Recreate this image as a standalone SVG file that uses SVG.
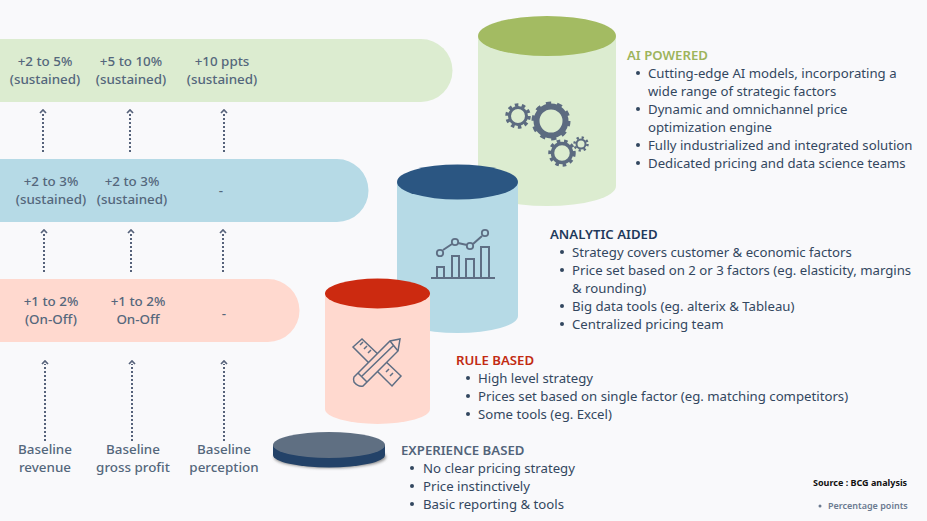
<svg xmlns="http://www.w3.org/2000/svg" width="927" height="521" viewBox="0 0 927 521">
<defs><filter id="sh" x="-10%" y="-20%" width="120%" height="150%"><feGaussianBlur stdDeviation="1.500"/></filter></defs>
<style>
text{font-family:"Noto Sans","Open Sans",sans-serif;}
.v{font-size:13.400px;font-weight:500;fill:#54677c;text-anchor:middle}
.h{font-size:13.200px;font-weight:600}
.b{font-size:13.200px;fill:#33475f}
.d{fill:#33475f}
.ar{fill:none;stroke:#56627a;stroke-width:2;stroke-dasharray:2 2}
.hd{fill:none;stroke:#56627a;stroke-width:1.700}
.ic{fill:none;stroke:#5e6e84;stroke-width:1.500}
</style>
<rect width="927" height="521" fill="#f9f9fb"/>
<g id="band-ai"><path d="M0 39H421a31.500 31.500 0 0 1 0 63H0Z" fill="#dcecd0"/>
<text class="v" x="45" y="66">+2 to 5%</text><text class="v" x="45" y="84">(sustained)</text>
<text class="v" x="131" y="66">+5 to 10%</text><text class="v" x="131" y="84">(sustained)</text>
<text class="v" x="222" y="66">+10 ppts</text><text class="v" x="222" y="84">(sustained)</text></g>
<g id="band-analytic"><path d="M0 159H337a31.500 31.500 0 0 1 0 63H0Z" fill="#b6dae6"/>
<text class="v" x="51" y="186">+2 to 3%</text><text class="v" x="51" y="204">(sustained)</text>
<text class="v" x="132" y="186">+2 to 3%</text><text class="v" x="132" y="204">(sustained)</text>
<text class="v" x="221" y="195">-</text></g>
<g id="band-rule"><path d="M0 279H268a31.500 31.500 0 0 1 0 63H0Z" fill="#ffd9cf"/>
<text class="v" x="51" y="306">+1 to 2%</text><text class="v" x="51" y="324">(On-Off)</text>
<text class="v" x="138" y="306">+1 to 2%</text><text class="v" x="138" y="324">On-Off</text>
<text class="v" x="224" y="318">-</text></g>
<g id="connectors">
<path class="ar" d="M43 152V112M130 152V112M224 152V112M44 272V232M131 272V232M223 272V232M45 441V364M132 441V364M224 441V364"/>
<path class="hd" d="M40 113l3-3 3 3M127 113l3-3 3 3M221 113l3-3 3 3M41 233l3-3 3 3M128 233l3-3 3 3M220 233l3-3 3 3M42 364l3-3 3 3M129 364l3-3 3 3M221 364l3-3 3 3"/>
</g>
<g id="cyl-ai">
<path d="M478 36V186A69 20 0 0 0 616 186V36Z" fill="#dcecd0"/>
<ellipse cx="547" cy="36" rx="69" ry="20" fill="#a3bb62"/>
<g fill="none" stroke="#5c6b80">
<circle cx="551" cy="121" r="14.500" stroke-width="6"/><circle cx="551" cy="121" r="17" stroke-width="5" stroke-dasharray="5 5.680"/>
<circle cx="518" cy="116" r="8.500" stroke-width="3"/><circle cx="518" cy="116" r="11" stroke-width="3.500" stroke-dasharray="3.500 3.410"/>
<circle cx="562" cy="153" r="9.500" stroke-width="3.500"/><circle cx="562" cy="153" r="12" stroke-width="3.500" stroke-dasharray="3.500 3.780"/>
<circle cx="581" cy="144" r="4.500" stroke-width="2"/><circle cx="581" cy="144" r="6.500" stroke-width="2.500" stroke-dasharray="2.200 2.880"/>
</g></g>
<g id="cyl-analytic">
<path d="M397 182V316A60.500 17 0 0 0 518 316V182Z" fill="#b6dae6"/>
<ellipse cx="457.500" cy="182" rx="60.500" ry="17.500" fill="#2b5682"/>
<g class="ic"><path d="M431 278H495M437 278V267H444V278M452 278V256H459V278M466 278V259H474V278M481 278V247H489V278" stroke-width="2"/>
<path d="M443 250L452 244M458 243L467 245M473 244L482 236" stroke-width="2"/>
<circle cx="440" cy="253" r="3.200" stroke-width="1.800"/><circle cx="455" cy="242" r="3.200" stroke-width="1.800"/><circle cx="470" cy="246" r="3.200" stroke-width="1.800"/><circle cx="485" cy="233" r="3.200" stroke-width="1.800"/></g></g>
<g id="cyl-rule">
<path d="M325 293V409A52.500 15 0 0 0 430 409V293Z" fill="#ffd9cf"/>
<ellipse cx="377.500" cy="293.500" rx="52.500" ry="15" fill="#cc2a10"/>
<g class="ic"><path d="M353 347L362 339L401 376L392 386Z"/><path d="M360 345l3-3M364 349l3-3M368 353l3-3M386 372l3-3M390 376l3-3"/>
<path d="M354 377L390 341L400 339L398 351L363 386Q358 387 354 382Q353 379 354 377Z" fill="#ffd9cf"/><path d="M358 373L367 382M390 341L398 351M361 377L394 345"/></g></g>
<g id="disc-experience">
<ellipse cx="330" cy="457" rx="56" ry="11" fill="#8a8a8a" filter="url(#sh)"/>
<path d="M273 445V455A56 12.500 0 0 0 385 455V445Z" fill="#234268"/>
<ellipse cx="329" cy="445" rx="56" ry="13" fill="#5f6f82"/></g>
<g id="baseline-revenue"><text class="v" x="45" y="454">Baseline</text><text class="v" x="45" y="472">revenue</text></g>
<g id="baseline-profit"><text class="v" x="133" y="454">Baseline</text><text class="v" x="133" y="472">gross profit</text></g>
<g id="baseline-perception"><text class="v" x="224" y="454">Baseline</text><text class="v" x="224" y="472">perception</text></g>
<g id="text-ai"><text class="h" x="627" y="60" fill="#9db45c">AI POWERED</text>
<circle class="d" cx="638" cy="73" r="2"/><text class="b" x="648" y="78">Cutting-edge AI models, incorporating a</text><text class="b" x="648" y="96">wide range of strategic factors</text>
<circle class="d" cx="638" cy="109" r="2"/><text class="b" x="648" y="114">Dynamic and omnichannel price</text><text class="b" x="648" y="132">optimization engine</text>
<circle class="d" cx="638" cy="145" r="2"/><text class="b" x="648" y="150">Fully industrialized and integrated solution</text>
<circle class="d" cx="638" cy="163" r="2"/><text class="b" x="648" y="168">Dedicated pricing and data science teams</text></g>
<g id="text-analytic"><text class="h" x="550" y="239" fill="#1f3a5c">ANALYTIC AIDED</text>
<circle class="d" cx="562" cy="252" r="2"/><text class="b" x="572" y="257">Strategy covers customer &amp; economic factors</text>
<circle class="d" cx="562" cy="270" r="2"/><text class="b" x="572" y="275">Price set based on 2 or 3 factors (eg. elasticity, margins</text><text class="b" x="572" y="293">&amp; rounding)</text>
<circle class="d" cx="562" cy="306" r="2"/><text class="b" x="572" y="311">Big data tools (eg. alterix &amp; Tableau)</text>
<circle class="d" cx="562" cy="324" r="2"/><text class="b" x="572" y="329">Centralized pricing team</text></g>
<g id="text-rule"><text class="h" x="456" y="365" fill="#c22a12">RULE BASED</text>
<circle class="d" cx="468" cy="378" r="2"/><text class="b" x="478" y="383">High level strategy</text>
<circle class="d" cx="468" cy="396" r="2"/><text class="b" x="478" y="401">Prices set based on single factor (eg. matching competitors)</text>
<circle class="d" cx="468" cy="414" r="2"/><text class="b" x="478" y="419">Some tools (eg. Excel)</text></g>
<g id="text-experience"><text class="h" x="401" y="455" fill="#52647a">EXPERIENCE BASED</text>
<circle class="d" cx="412" cy="468" r="2"/><text class="b" x="423" y="473">No clear pricing strategy</text>
<circle class="d" cx="412" cy="486" r="2"/><text class="b" x="423" y="491">Price instinctively</text>
<circle class="d" cx="412" cy="504" r="2"/><text class="b" x="423" y="509">Basic reporting &amp; tools</text></g>
<g id="notes"><text x="813" y="486" font-size="9" font-weight="700" fill="#111">Source : BCG analysis</text>
<circle cx="820" cy="506" r="1.500" fill="#6b7a90"/><text x="828" y="509" font-size="9" font-weight="600" fill="#6b7a90">Percentage points</text></g>
</svg>
